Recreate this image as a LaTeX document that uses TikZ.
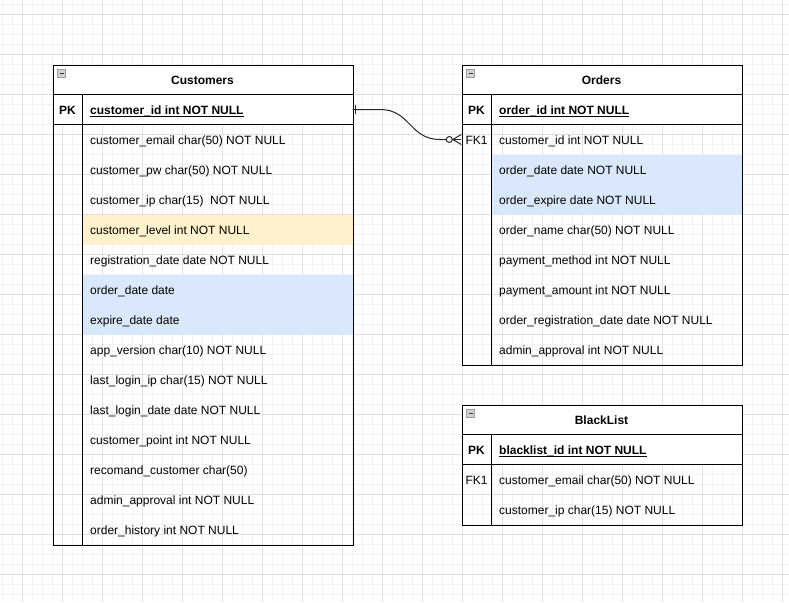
\documentclass[tikz,border=0pt]{standalone}
\usepackage{fontspec}
\setmainfont{Liberation Sans}
\usetikzlibrary{calc}
\definecolor{hlblue}{HTML}{DAE8FC}
\definecolor{hlyellow}{HTML}{FFF2CC}
\definecolor{gridmajor}{HTML}{E0E0E0}
\definecolor{gridminor}{HTML}{F3F3F3}
\begin{document}
\begin{tikzpicture}[x=1pt,y=-1pt,
  txt/.style={font=\fontsize{12}{14}\selectfont, inner sep=0pt, text height=8.6pt, text depth=0pt, yshift=-0.7pt},
  boldtxt/.style={txt, font=\fontsize{12}{14}\selectfont\bfseries},
  fld/.style={txt, anchor=west},
  pkfld/.style={boldtxt, anchor=west},
  frame/.style={draw=black, line width=1pt, inner sep=0pt, anchor=north west},
  sep/.style={draw=black, line width=1pt},
  rowcell/.style={inner sep=0pt, minimum height=30pt},
  minusbox/.style={draw=gray!75, fill=gray!35, line width=1pt, inner sep=0pt, minimum size=8pt},
  minusbar/.style={draw=black!80, line width=1.5pt},
  conn/.style={draw=black!85, line width=1pt},
  minorline/.style={draw=gridminor, line width=1pt},
  majorline/.style={draw=gridmajor, line width=1pt}
]
\useasboundingbox (0,0) rectangle (789,602);
\fill[white] (0,0) rectangle (789,602);
% grid
\foreach \x in {2.5,12.5,...,788} \draw[minorline] (\x,0) -- (\x,602);
\foreach \y in {4.5,14.5,...,602} \draw[minorline] (0,\y) -- (789,\y);
\foreach \x in {22.5,62.5,...,788} \draw[majorline] (\x,0) -- (\x,602);
\foreach \y in {14.5,54.5,...,602} \draw[majorline] (0,\y) -- (789,\y);

% ---------------- Customers ----------------
\fill[white] (52.5,64.5) rectangle (352.5,124.5);
\fill[hlyellow] (82.5,214.5) rectangle (352.5,244.5);
\fill[hlblue] (82.5,274.5) rectangle (352.5,334.5);
\node[frame, minimum width=300pt, minimum height=480pt] (cust) at (52.5,64.5) {};
\draw[sep] (52.5,94.5) -- (352.5,94.5);
\draw[sep] (52.5,124.5) -- (352.5,124.5);
\draw[sep] (82.5,94.5) -- (82.5,544.5);
\node[minusbox] (custminus) at (61.5,73.5) {};
\draw[minusbar] (59.5,73.5) -- (63.5,73.5);
\node[boldtxt] (custtitle) at (202.5,79.5) {Customers};
\node[boldtxt] (custpk) at (67.5,109.5) {PK};
\node[rowcell, minimum width=270pt] (custpkrow) at (217.5,109.5) {};
\node[pkfld] (custpkf) at (90,109.5) {customer\_id int NOT NULL};
\draw[line width=0.9pt] ([yshift=-1.6pt]custpkf.south west) -- ([yshift=-1.6pt]custpkf.south east);
\foreach \t [count=\i] in {
  customer\_email char(50) NOT NULL,
  customer\_pw char(50) NOT NULL,
  customer\_ip char(15)\ \ NOT NULL,
  customer\_level int NOT NULL,
  registration\_date date NOT NULL,
  order\_date date,
  expire\_date date,
  app\_version char(10) NOT NULL,
  last\_login\_ip char(15) NOT NULL,
  last\_login\_date date NOT NULL,
  customer\_point int NOT NULL,
  recomand\_customer char(50),
  admin\_approval int NOT NULL,
  order\_history int NOT NULL}
  \node[fld] (custf\i) at (90,109.5+30*\i) {\t};

% ---------------- Orders ----------------
\fill[white] (461.5,64.5) rectangle (741.5,124.5);
\fill[hlblue] (491.5,154.5) rectangle (741.5,214.5);
\node[frame, minimum width=280pt, minimum height=300pt] (ord) at (461.5,64.5) {};
\draw[sep] (461.5,94.5) -- (741.5,94.5);
\draw[sep] (461.5,124.5) -- (741.5,124.5);
\draw[sep] (491.5,94.5) -- (491.5,364.5);
\node[minusbox] (ordminus) at (470.5,73.5) {};
\draw[minusbar] (468.5,73.5) -- (472.5,73.5);
\node[boldtxt] (ordtitle) at (601.5,79.5) {Orders};
\node[boldtxt] (ordpk) at (476.5,109.5) {PK};
\node[pkfld] (ordpkf) at (499,109.5) {order\_id int NOT NULL};
\draw[line width=0.9pt] ([yshift=-1.6pt]ordpkf.south west) -- ([yshift=-1.6pt]ordpkf.south east);
\node[rowcell, minimum width=30pt] (ordfkrow) at (476.5,139.5) {};
\node[txt] (ordfk) at (476.5,139.5) {FK1};
\foreach \t [count=\i] in {
  customer\_id int NOT NULL,
  order\_date date NOT NULL,
  order\_expire date NOT NULL,
  order\_name char(50) NOT NULL,
  payment\_method int NOT NULL,
  payment\_amount int NOT NULL,
  order\_registration\_date date NOT NULL,
  admin\_approval int NOT NULL}
  \node[fld] (ordf\i) at (499,109.5+30*\i) {\t};

% ---------------- BlackList ----------------
\fill[white] (461.5,404.5) rectangle (741.5,464.5);
\node[frame, minimum width=280pt, minimum height=120pt] (bl) at (461.5,404.5) {};
\draw[sep] (461.5,434.5) -- (741.5,434.5);
\draw[sep] (461.5,464.5) -- (741.5,464.5);
\draw[sep] (491.5,434.5) -- (491.5,524.5);
\node[minusbox] (blminus) at (470.5,413.5) {};
\draw[minusbar] (468.5,413.5) -- (472.5,413.5);
\node[boldtxt] (bltitle) at (601.5,419.5) {BlackList};
\node[boldtxt] (blpk) at (476.5,449.5) {PK};
\node[pkfld] (blpkf) at (499,449.5) {blacklist\_id int NOT NULL};
\draw[line width=0.9pt] ([yshift=-1.6pt]blpkf.south west) -- ([yshift=-1.6pt]blpkf.south east);
\node[txt] (blfk) at (476.5,479.5) {FK1};
\node[fld] (blf1) at (499,479.5) {customer\_email char(50) NOT NULL};
\node[fld] (blf2) at (499,509.5) {customer\_ip char(15) NOT NULL};

% ---------------- connector (one to zero-or-many) ----------------
\coordinate (cA) at ($(custpkrow.east)+(27.5,0)$);
\coordinate (cB) at ($(ordfkrow.west)+(-21.5,0)$);
\coordinate (cO) at ($(ordfkrow.west)+(-12,0)$);
\coordinate (cF) at ($(ordfkrow.west)+(-8.5,0)$);
\draw[conn] (custpkrow.east) -- (cA) .. controls ($(cA)+(30,0)$) and ($(cB)+(-30,0)$) .. (cB) -- ($(cO)+(-3,0)$);
\draw[conn] ($(custpkrow.east)+(3,-5)$) -- ($(custpkrow.east)+(3,4.5)$);
\draw[conn] (cO) circle[radius=3pt];
\draw[conn] ($(cO)+(3,0)$) -- (ordfkrow.west);
\draw[conn] (cF) -- ($(ordfkrow.west)+(0,-5)$);
\draw[conn] (cF) -- ($(ordfkrow.west)+(0,5)$);
\end{tikzpicture}
\end{document}
